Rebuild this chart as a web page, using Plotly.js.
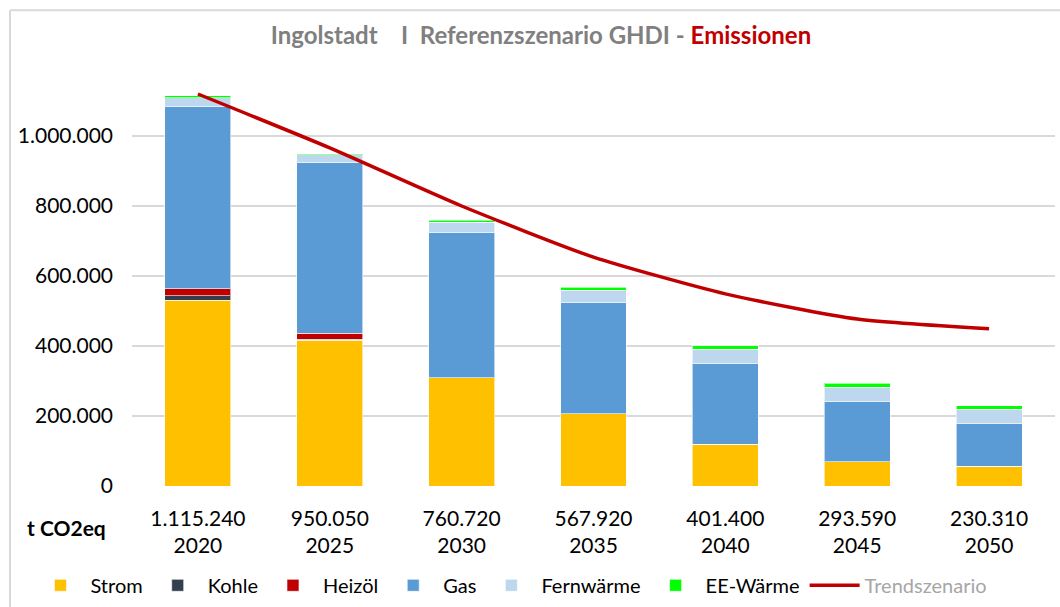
<!DOCTYPE html>
<html><head><meta charset="utf-8">
<script src="https://cdn.plot.ly/plotly-3.0.1.min.js"></script>
<style>body{margin:0;background:#fff}#c{width:1060px;height:607px}</style>
</head><body><div id="c"></div>
<script>
const years = ['2020','2025','2030','2035','2040','2045','2050'];
const totals = ['1.115.240','950.050','760.720','567.920','401.400','293.590','230.310'];
const strom = [531000, 417000, 309000, 206000, 120000, 69000, 57000];
const kohle = [13000, 2000, 0, 0, 0, 0, 0];
const heizoel = [19000, 17000, 0, 0, 0, 0, 0];
const gas = [522000, 488000, 416000, 318000, 230000, 172000, 121000];
const fernwaerme = [24000, 22000, 29000, 36000, 41000, 41000, 41000];
const eeWaerme = [6000, 4000, 6000, 8000, 10000, 12000, 11000];
const trend = [1120000, 966000, 800000, 654000, 549000, 477000, 449000];
const yTickVals = [0, 200000, 400000, 600000, 800000, 1000000];
const yTickText = ['0','200.000','400.000','600.000','800.000','1.000.000'];

const cats = years.map((y,i)=>totals[i]+'<br>'+y);
const F = 'Lato, "Open Sans", sans-serif';
function bar(name, vals, color){
  return {type:'bar', name:name, x:cats, y:vals, marker:{color:color, line:{color:'rgba(255,255,255,0.6)', width:1}}, hoverinfo:'name+y'};
}
const data = [
  bar('Strom', strom, '#FFC000'),
  bar('Kohle', kohle, '#333F50'),
  bar('Heizöl', heizoel, '#C00000'),
  bar('Gas', gas, '#5B9BD5'),
  bar('Fernwärme', fernwaerme, '#BDD7EE'),
  bar('EE-Wärme', eeWaerme, '#00FF00'),
  {type:'scatter', mode:'lines', name:'<span style="color:#a6a6a6">Trendszenario</span>', x:cats, y:trend,
   line:{color:'#C00000', width:3.5, shape:'spline', smoothing:0.6}}
];
const layout = {
  width:1060, height:607,
  margin:{l:132, r:5, t:66, b:121, autoexpand:false},
  barmode:'stack', bargap:0.5,
  paper_bgcolor:'#fff', plot_bgcolor:'#fff',
  font:{family:F, color:'#000', size:18},
  title:{text:'<b><span style="color:#808080">Ingolstadt&nbsp;&nbsp;&nbsp; I&nbsp;&nbsp;Referenzszenario GHDI - </span><span style="color:#C00000">Emissionen</span></b>',
    x:541/1060, xref:'container', y:1-36/607, yref:'container', xanchor:'center', yanchor:'middle', font:{size:24, family:F}},
  xaxis:{type:'category', showgrid:false, zeroline:false, showline:false, ticks:'', ticklabelstandoff:18,
    tickfont:{size:21, color:'#000', family:F}, fixedrange:true, automargin:false},
  yaxis:{range:[0,1200000], tickvals:yTickVals, ticktext:yTickText, showgrid:true, gridcolor:'#d9d9d9', gridwidth:2,
    zeroline:false, showline:false, ticks:'', ticklabelstandoff:18, tickfont:{size:21, color:'#000', family:F}, fixedrange:true, automargin:false},
  legend:{orientation:'h', x:-0.11, xanchor:'left', y:-0.19, yanchor:'top', font:{size:20, color:'#000', family:F},
    itemwidth:50, traceorder:'normal', tracegroupgap:0},
  showlegend:true,
  annotations:[{text:'<b>t CO2eq</b>', xref:'paper', yref:'paper', x:-0.116, y:-0.098, xanchor:'left', yanchor:'middle',
    showarrow:false, font:{size:21, color:'#000', family:F}}],
  shapes:[
    {type:'line', xref:'paper', yref:'paper', x0:-0.1322, x1:1.01, y0:1.133, y1:1.133, line:{color:'#d9d9d9', width:2}},
    {type:'line', xref:'paper', yref:'paper', x0:-0.1322, x1:-0.1322, y0:1.133, y1:-0.3, line:{color:'#d9d9d9', width:2}}
  ]
};
Plotly.newPlot('c', data, layout, {displayModeBar:false, staticPlot:true});
</script></body></html>
